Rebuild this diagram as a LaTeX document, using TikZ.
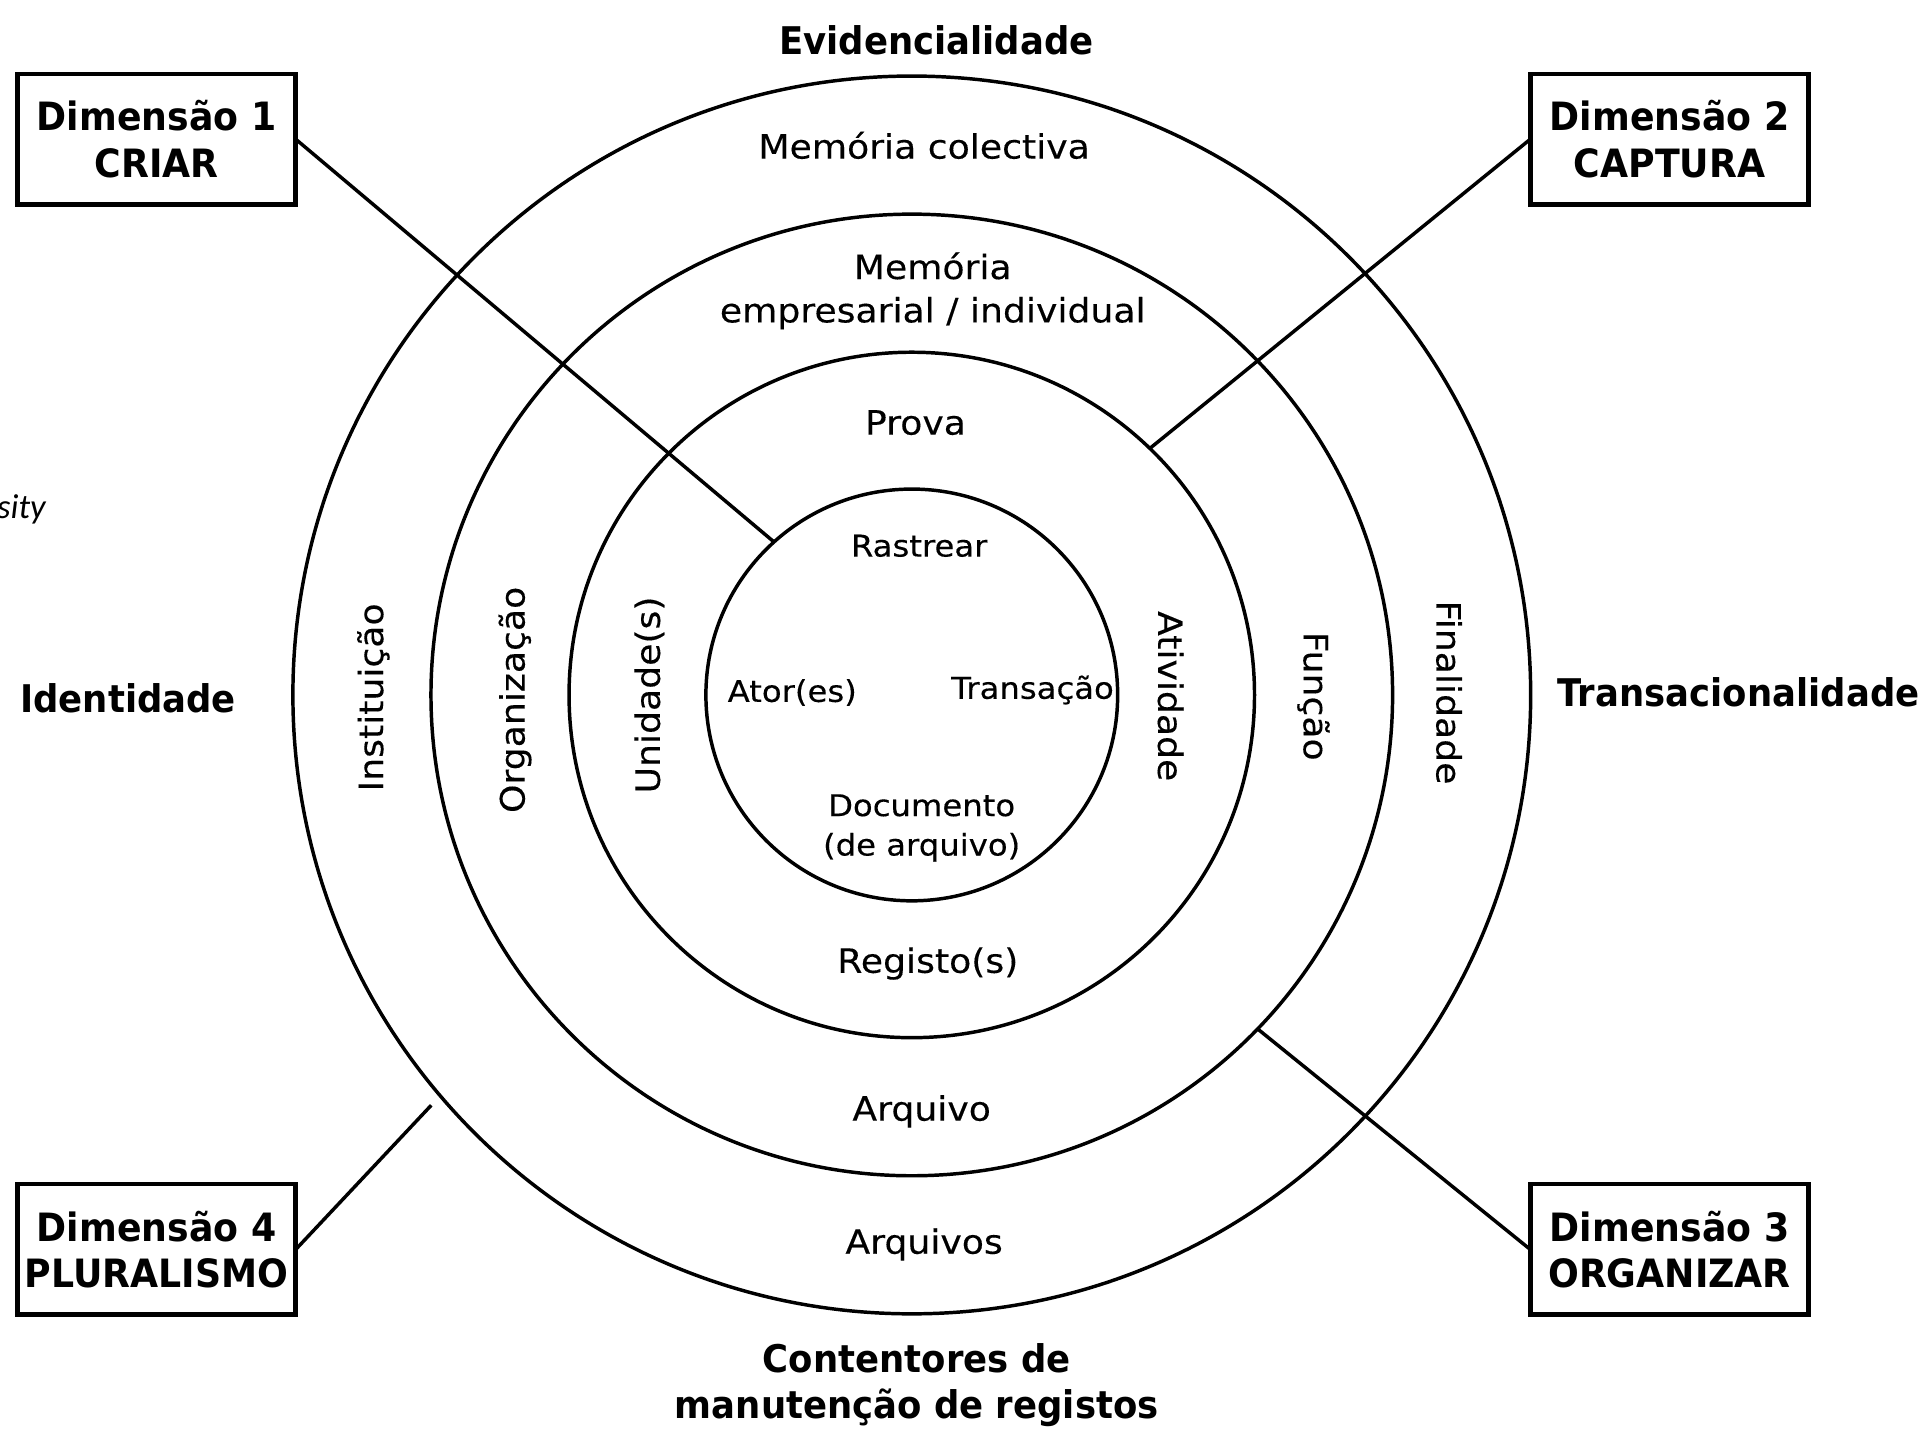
\documentclass[tikz,border=0pt]{standalone}
\usepackage{fontspec}
\setmainfont{DejaVu Sans}
\newfontfamily\ringfont{DejaVu Sans}[FakeStretch=1.08, FakeBold=0.3]
\newfontfamily\boldfont{DejaVu Sans}[FakeStretch=0.93]
\newfontfamily\itfont{Carlito}
\tikzset{
  ring/.style={circle, draw, line width=0.8pt, inner sep=0pt, outer sep=0pt},
  dimbox/.style={draw, line width=1.1pt, minimum width=2.26cm, minimum height=1.06cm,
    inner sep=0pt, outer sep=0pt, align=center,
    font=\boldfont\bfseries\fontsize{9}{10.7}\selectfont},
  titletext/.style={align=center, inner sep=0pt,
    font=\boldfont\bfseries\fontsize{8.8}{10.5}\selectfont},
  lbl/.style={align=center, inner sep=0pt, font=\ringfont\fontsize{7.73}{10}\selectfont},
  innerlbl/.style={align=center, inner sep=0pt, font=\ringfont\fontsize{6.9}{9.1}\selectfont},
  link/.style={line width=0.8pt},
}
\begin{document}
\begin{tikzpicture}[x=0.01cm, y=-0.01cm]
\useasboundingbox (0,0) rectangle (1568,1162);

% concentric circles
\node[ring, minimum size=10.04cm] (c4) at (740,564) {};
\node[ring, minimum size=7.80cm]  (c3) at (740,564) {};
\node[ring, minimum size=5.56cm]  (c2) at (740,564) {};
\node[ring, minimum size=3.34cm]  (c1) at (740,564) {};

% dimension boxes
\node[dimbox] (d1) at (127,113)  {Dimensão 1\\CRIAR};
\node[dimbox] (d2) at (1355,113) {Dimensão 2\\CAPTURA};
\node[dimbox] (d3) at (1355,1014) {Dimensão 3\\ORGANIZAR};
\node[dimbox] (d4) at (127,1014) {Dimensão 4\\PLURALISMO};

% connectors
\coordinate (e4) at (350,897);
\draw[link] (d1.east) -- (c1.132.8);
\draw[link] (d2.west) -- (c2.46.3);
\draw[link] (d3.west) -- (c3.-44.3);
\draw[link] (d4.east) -- (e4);

% axis titles
\node[titletext] (tev) at (760,33) {Evidencialidade};
\node[titletext] (tid) at (104,567) {Identidade};
\node[titletext] (ttr) at (1411,562) {Transacionalidade};
\node[titletext] (tco) at (744,1124) {Contentores de\\manutenção de registos};

% ring labels (top / bottom)
\node[lbl] (mc) at (750,118) {Memória colectiva};
\node[lbl] (me) at (757,236) {Memória\\empresarial / individual};
\node[lbl] (pr) at (743,343) {Prova};
\node[lbl] (rg) at (753,782) {Registo(s)};
\node[lbl] (aq) at (748,902) {Arquivo};
\node[lbl] (aqs) at (750,1010) {Arquivos};

% inner circle labels
\node[innerlbl] (ra) at (746,443) {Rastrear};
\node[innerlbl] (at) at (643,562) {Ator(es)};
\node[innerlbl] (tr) at (838,560) {Transação};
\node[innerlbl] (dc) at (748,672) {Documento\\(de arquivo)};

% vertical labels
\node[lbl, rotate=90] (in) at (303,566) {Instituição};
\node[lbl, rotate=90] (og) at (418,568) {Organização};
\node[lbl, rotate=90] (un) at (527,564) {Unidade(s)};
\node[lbl, rotate=-90] (av) at (950,565) {Atividade};
\node[lbl, rotate=-90] (fu) at (1066,565) {Função};
\node[lbl, rotate=-90] (fi) at (1176,562) {Finalidade};

% cropped remnant text at left edge
\node[anchor=base west, inner sep=0pt, font=\itfont\itshape\fontsize{8}{9}\selectfont] (st) at (-3,421) {sity};
\end{tikzpicture}
\end{document}
